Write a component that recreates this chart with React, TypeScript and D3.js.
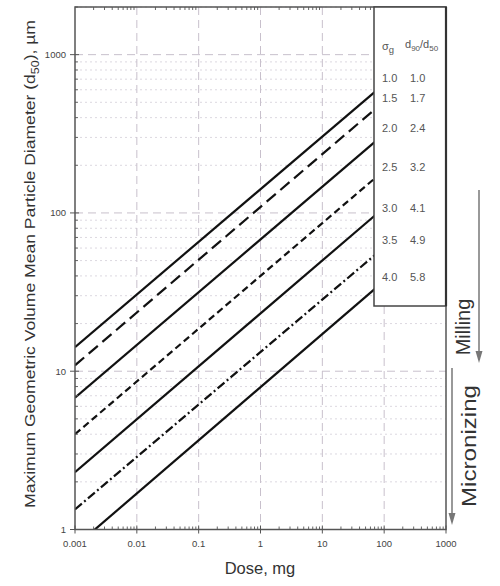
import { useEffect, useRef } from "react"
import * as d3 from "d3"

// dose range of the drawn lines (mg)
const doseStart = 0.001
const doseEnd = 70

// d50 (µm) at the start and end dose, one entry per line
const startValues = [14.2, 10.9, 6.8, 4.0, 2.3, 1.34, 0.78]
const endValues = [580, 450, 280, 165, 96, 54, 33]
const dashes = ["none", "12,6", "none", "7,4", "none", "9,3,2,3", "none"]

// legend table
const sigmaG = ["1.0", "1.5", "2.0", "2.5", "3.0", "3.5", "4.0"]
const d90d50 = ["1.0", "1.7", "2.4", "3.2", "4.1", "4.9", "5.8"]

const xTicks = [0.001, 0.01, 0.1, 1, 10, 100, 1000]
const xTickLabels = ["0.001", "0.01", "0.1", "1", "10", "100", "1000"]
const yTicks = [1, 10, 100, 1000]
const yTickLabels = ["1", "10", "100", "1000"]

const FONT = "Liberation Sans, Arial, sans-serif"

export default function App() {
  const svgRef = useRef<SVGSVGElement | null>(null)

  useEffect(() => {
    if (!svgRef.current) return
    const svg = d3.select(svgRef.current)
    svg.selectAll("*").remove()

    const left = 75
    const right = 446
    const top = 7
    const bottom = 529.5

    const x = d3.scaleLog().domain([0.001, 1000]).range([left, right])
    const y = d3.scaleLog().domain([1, 2000]).range([bottom, top])

    svg.append("rect").attr("width", 500).attr("height", 586).attr("fill", "white")

    // minor y grid (dotted)
    const minorY: number[] = []
    for (let dec = 1; dec <= 1000; dec *= 10) {
      for (let m = 2; m <= 9; m++) {
        if (dec * m <= 2000) minorY.push(dec * m)
      }
    }
    svg
      .append("g")
      .selectAll("line")
      .data(minorY)
      .enter()
      .append("line")
      .attr("x1", left)
      .attr("x2", right)
      .attr("y1", (d) => y(d))
      .attr("y2", (d) => y(d))
      .attr("stroke", "#dcd8e0")
      .attr("stroke-width", 1)
      .attr("stroke-dasharray", "2,3")

    // major grid (dashed)
    svg
      .append("g")
      .selectAll("line")
      .data(yTicks.slice(1))
      .enter()
      .append("line")
      .attr("x1", left)
      .attr("x2", right)
      .attr("y1", (d) => y(d))
      .attr("y2", (d) => y(d))
      .attr("stroke", "#c8c0cc")
      .attr("stroke-width", 1)
      .attr("stroke-dasharray", "8,5")

    svg
      .append("g")
      .selectAll("line")
      .data(xTicks.slice(1, -1))
      .enter()
      .append("line")
      .attr("x1", (d) => x(d))
      .attr("x2", (d) => x(d))
      .attr("y1", top)
      .attr("y2", bottom)
      .attr("stroke", "#c8c0cc")
      .attr("stroke-width", 1)
      .attr("stroke-dasharray", "8,5")

    // lines
    svg
      .append("clipPath")
      .attr("id", "plotClip")
      .append("rect")
      .attr("x", left)
      .attr("y", top)
      .attr("width", right - left)
      .attr("height", bottom - top)

    const line = d3
      .line<[number, number]>()
      .x((d) => x(d[0]))
      .y((d) => y(d[1]))

    const lineG = svg.append("g").attr("clip-path", "url(#plotClip)")
    startValues.forEach((v, i) => {
      const pts: [number, number][] = [
        [doseStart, v],
        [doseEnd, endValues[i]],
      ]
      lineG
        .append("path")
        .datum(pts)
        .attr("d", line)
        .attr("fill", "none")
        .attr("stroke", "#111")
        .attr("stroke-width", 2.2)
        .attr("stroke-dasharray", dashes[i])
    })

    // minor ticks
    const minorX: number[] = []
    for (let dec = 0.001; dec < 999; dec *= 10) {
      for (let m = 2; m <= 9; m++) minorX.push(dec * m)
    }
    const tickColor = "#666"
    svg
      .append("g")
      .selectAll("line")
      .data(minorX)
      .enter()
      .append("line")
      .attr("x1", (d) => x(d))
      .attr("x2", (d) => x(d))
      .attr("y1", bottom)
      .attr("y2", bottom - 3)
      .attr("stroke", tickColor)
    svg
      .append("g")
      .selectAll("line")
      .data(minorX)
      .enter()
      .append("line")
      .attr("x1", (d) => x(d))
      .attr("x2", (d) => x(d))
      .attr("y1", top)
      .attr("y2", top + 3)
      .attr("stroke", tickColor)
    svg
      .append("g")
      .selectAll("line")
      .data(minorY)
      .enter()
      .append("line")
      .attr("x1", left)
      .attr("x2", left + 3)
      .attr("y1", (d) => y(d))
      .attr("y2", (d) => y(d))
      .attr("stroke", tickColor)

    // frame
    svg
      .append("rect")
      .attr("x", left)
      .attr("y", top)
      .attr("width", right - left)
      .attr("height", bottom - top)
      .attr("fill", "none")
      .attr("stroke", "#555")
      .attr("stroke-width", 1.5)

    // major ticks + labels
    svg
      .append("g")
      .selectAll("line")
      .data(xTicks)
      .enter()
      .append("line")
      .attr("x1", (d) => x(d))
      .attr("x2", (d) => x(d))
      .attr("y1", bottom - 4)
      .attr("y2", bottom + 4)
      .attr("stroke", "#555")
    svg
      .append("g")
      .selectAll("text")
      .data(xTicks)
      .enter()
      .append("text")
      .attr("x", (d) => x(d))
      .attr("y", bottom + 17)
      .attr("text-anchor", "middle")
      .attr("font-family", FONT)
      .attr("font-size", 9.5)
      .attr("fill", "#444")
      .text((d, i) => xTickLabels[i])

    svg
      .append("g")
      .selectAll("line")
      .data(yTicks)
      .enter()
      .append("line")
      .attr("x1", left - 5)
      .attr("x2", left + 4)
      .attr("y1", (d) => y(d))
      .attr("y2", (d) => y(d))
      .attr("stroke", "#555")
    svg
      .append("g")
      .selectAll("text")
      .data(yTicks)
      .enter()
      .append("text")
      .attr("x", left - 9)
      .attr("y", (d) => y(d) + 3.5)
      .attr("text-anchor", "end")
      .attr("font-family", FONT)
      .attr("font-size", 9.5)
      .attr("fill", "#444")
      .text((d, i) => yTickLabels[i])

    // axis titles
    svg
      .append("text")
      .attr("x", 260)
      .attr("y", 574)
      .attr("text-anchor", "middle")
      .attr("font-family", FONT)
      .attr("font-size", 16.5)
      .attr("fill", "#333")
      .text("Dose, mg")

    const yTitle = svg
      .append("text")
      .attr("transform", "translate(35, 264) rotate(-90)")
      .attr("text-anchor", "middle")
      .attr("font-family", FONT)
      .attr("font-size", 15.5)
      .attr("fill", "#333")
      .attr("textLength", 488)
      .attr("lengthAdjust", "spacingAndGlyphs")
    yTitle.append("tspan").text("Maximum Geometric Volume Mean Particle Diameter (d")
    yTitle.append("tspan").attr("font-size", 11).attr("dy", 4).text("50")
    yTitle.append("tspan").attr("dy", -4).text("), µm")

    // legend box
    const lx = 374
    svg
      .append("rect")
      .attr("x", lx)
      .attr("y", top)
      .attr("width", right - lx)
      .attr("height", 306 - top)
      .attr("fill", "white")
      .attr("stroke", "#444")
      .attr("stroke-width", 1.5)
    svg
      .append("line")
      .attr("x1", right)
      .attr("x2", right)
      .attr("y1", top)
      .attr("y2", 306)
      .attr("stroke", "#333")
      .attr("stroke-width", 2.2)

    const head = svg
      .append("text")
      .attr("x", 382)
      .attr("y", 50)
      .attr("font-family", FONT)
      .attr("font-size", 11)
      .attr("fill", "#555")
    head.append("tspan").text("σ")
    head.append("tspan").attr("font-size", 9.5).attr("dy", 3).text("g")
    const head2 = svg
      .append("text")
      .attr("x", 405)
      .attr("y", 48)
      .attr("font-family", FONT)
      .attr("font-size", 11)
      .attr("fill", "#555")
    head2.append("tspan").text("d")
    head2.append("tspan").attr("font-size", 8).attr("dy", 3).text("90")
    head2.append("tspan").attr("dy", -3).text("/d")
    head2.append("tspan").attr("font-size", 8).attr("dy", 3).text("50")

    const rowY = [82, 102, 132, 171, 212, 244, 281]
    sigmaG.forEach((s, i) => {
      svg
        .append("text")
        .attr("x", 382)
        .attr("y", rowY[i])
        .attr("font-family", FONT)
        .attr("font-size", 11)
        .attr("fill", "#555")
        .text(s)
      svg
        .append("text")
        .attr("x", 410)
        .attr("y", rowY[i])
        .attr("font-family", FONT)
        .attr("font-size", 11)
        .attr("fill", "#555")
        .text(d90d50[i])
    })

    // Milling / Micronizing arrows
    const arrow = (ax: number, y1: number, y2: number) => {
      svg
        .append("line")
        .attr("x1", ax)
        .attr("x2", ax)
        .attr("y1", y1)
        .attr("y2", y2 - 8)
        .attr("stroke", "#777")
        .attr("stroke-width", 1.5)
      svg
        .append("path")
        .attr("d", `M${ax - 3.5},${y2 - 12}L${ax},${y2}L${ax + 3.5},${y2 - 12}Z`)
        .attr("fill", "#777")
    }
    arrow(479, 190, 363)
    arrow(452, 368, 525)

    svg
      .append("text")
      .attr("transform", "translate(470, 327) rotate(-90)")
      .attr("text-anchor", "middle")
      .attr("font-family", FONT)
      .attr("font-size", 20)
      .attr("fill", "#333")
      .text("Milling")
    svg
      .append("text")
      .attr("transform", "translate(476, 446) rotate(-90)")
      .attr("text-anchor", "middle")
      .attr("font-family", FONT)
      .attr("font-size", 20)
      .attr("fill", "#333")
      .attr("textLength", 122)
      .attr("lengthAdjust", "spacingAndGlyphs")
      .text("Micronizing")
  }, [])

  return (
    <div style={{ position: "absolute", left: 0, top: 0 }}>
      <svg ref={svgRef} width={500} height={586}></svg>
    </div>
  )
}
